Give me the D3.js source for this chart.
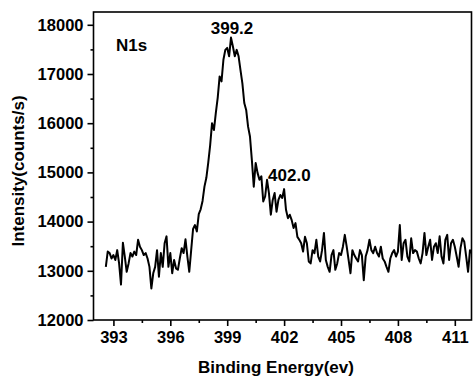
<!DOCTYPE html>
<html>
<head>
<meta charset="utf-8">
<script src="https://cdn.jsdelivr.net/npm/d3@7"></script>
<style>
  html, body { margin: 0; padding: 0; background: #ffffff; }
  svg { display: block; }
  text { font-family: "Liberation Sans", Arial, sans-serif; font-weight: bold; fill: #000; }
</style>
</head>
<body>
<svg id="chart" width="474" height="377"></svg>
<script>
// ---- data ----
const energyStart = 392.6;   // eV, first sample
const energyStep = 0.1;      // eV, sampling step
const intensity = [
  13080, 13390, 13360, 13250, 13320, 13220, 13420, 13150, 12720, 13570,
  13290, 12980, 13150, 13360, 13290, 13390, 13320, 13630, 13490, 13420,
  13320, 13360, 13250, 13080, 12640, 12950, 13080, 13420, 12880, 13360,
  13080, 13560, 13700, 13080, 13360, 12950, 13220, 13050, 13020, 13250,
  13460, 13360, 13640, 13290, 12980, 13420, 13850, 13930, 13800, 14150,
  14250, 14420, 14710, 14890, 15200, 15550, 16000, 15860, 16210, 16520,
  16950, 16850, 17290, 17490, 17530, 17360, 17740, 17560, 17360, 17490,
  17360, 17080, 16810, 16410, 16270, 15930, 15730, 15250, 14710, 15190,
  14990, 14850, 14920, 14410, 14510, 14850, 14580, 14140, 14440, 14580,
  14200, 14440, 14540, 14480, 14660, 14240, 14070, 14140, 14030, 13870,
  13970, 13690, 13630, 13560, 13390, 13690, 13560, 13190, 13150, 13420,
  13360, 13630, 13290, 13190, 13420, 13770, 13220, 13080, 12980, 13320,
  13420, 13020, 13150, 13360, 13320, 13490, 13730, 13490, 13220, 12950,
  13420, 13320, 13250, 13190, 13420, 13320, 12810, 13290, 13420, 13630,
  13420, 13360, 13490, 13360, 13290, 13490, 13250, 13190, 13080, 12980,
  13250, 13360, 13420, 13290, 13390, 13930, 13220, 13560, 13630, 13290,
  13190, 13660, 13360, 13420, 13390, 13250, 13150, 13360, 13770, 13320,
  13490, 13630, 13220, 13490, 13560, 13360, 13700, 13290, 13150, 13630,
  13730, 13220, 13560, 13630, 13490, 13290, 13080, 13460, 13660, 13590,
  13290, 12980, 13420, 13360
];
const xTicks = [393, 396, 399, 402, 405, 408, 411];
const xMinorTicks = [394.5, 397.5, 400.5, 403.5, 406.5, 409.5];
const yTicks = [12000, 13000, 14000, 15000, 16000, 17000, 18000];
const yMinorTicks = [12500, 13500, 14500, 15500, 16500, 17500];
const peakLabels = [
  { text: "399.2", e: 399.2, v: 17740 },
  { text: "402.0", e: 402.0, v: 14660 }
];
const spectrumLabel = "N1s";
const xTitle = "Binding Energy(ev)";
const yTitle = "Intensity(counts/s)";

// ---- layout ----
const svg = d3.select("#chart");
const margin = { left: 93.5, top: 12, right: 474 - 471.5, bottom: 377 - 320 };
const W = 474, H = 377;
const pw = W - margin.left - margin.right;
const ph = H - margin.top - margin.bottom;

const x = d3.scaleLinear().domain([391.95, 411.88]).range([0, pw]);
const y = d3.scaleLinear().domain([12000, 18260]).range([ph, 0]);

const g = svg.append("g").attr("transform", `translate(${margin.left},${margin.top})`);

g.append("clipPath").attr("id", "clip")
  .append("rect").attr("width", pw).attr("height", ph);

const points = intensity.map((v, i) => ({ e: energyStart + i * energyStep, v }));

g.append("path")
  .datum(points)
  .attr("clip-path", "url(#clip)")
  .attr("fill", "none")
  .attr("stroke", "#000")
  .attr("stroke-width", 2)
  .attr("stroke-linejoin", "round")
  .attr("d", d3.line().x(d => x(d.e)).y(d => y(d.v)));

// axes
const xAxis = g.append("g").attr("transform", `translate(0,${ph})`)
  .call(d3.axisBottom(x).tickValues(xTicks).tickFormat(d3.format("d")).tickSize(6).tickSizeOuter(0).tickPadding(5));
const xMinor = g.append("g").attr("transform", `translate(0,${ph})`)
  .call(d3.axisBottom(x).tickValues(xMinorTicks).tickFormat("").tickSize(3).tickSizeOuter(0));
const yAxis = g.append("g")
  .call(d3.axisLeft(y).tickValues(yTicks).tickFormat(d3.format("d")).tickSize(6).tickSizeOuter(0).tickPadding(4));
const yMinor = g.append("g")
  .call(d3.axisLeft(y).tickValues(yMinorTicks).tickFormat("").tickSize(3).tickSizeOuter(0));

[xAxis, xMinor, yAxis, yMinor].forEach(a => {
  a.select(".domain").remove();
  a.selectAll("line").attr("stroke", "#000").attr("stroke-width", 1.6);
  a.selectAll("text").attr("font-family", "Liberation Sans, Arial, sans-serif")
    .attr("font-weight", "bold").attr("font-size", 16.5).attr("fill", "#000");
});

// frame
g.append("rect")
  .attr("width", pw).attr("height", ph)
  .attr("fill", "none").attr("stroke", "#000").attr("stroke-width", 1.6);

// titles
svg.append("text")
  .attr("x", 276).attr("y", 373)
  .attr("text-anchor", "middle").attr("font-size", 17)
  .text(xTitle);
svg.append("text")
  .attr("transform", `translate(24,171) rotate(-90)`)
  .attr("text-anchor", "middle").attr("font-size", 17)
  .text(yTitle);

// annotations
g.append("text")
  .attr("x", 116 - margin.left).attr("y", 51 - margin.top)
  .attr("font-size", 17)
  .text(spectrumLabel);
g.append("text")
  .attr("x", x(peakLabels[0].e) + 1).attr("y", y(peakLabels[0].v) - 4)
  .attr("text-anchor", "middle").attr("font-size", 17)
  .text(peakLabels[0].text);
g.append("text")
  .attr("x", x(peakLabels[1].e) - 16).attr("y", y(peakLabels[1].v) - 8)
  .attr("text-anchor", "start").attr("font-size", 17)
  .text(peakLabels[1].text);
</script>
</body>
</html>
